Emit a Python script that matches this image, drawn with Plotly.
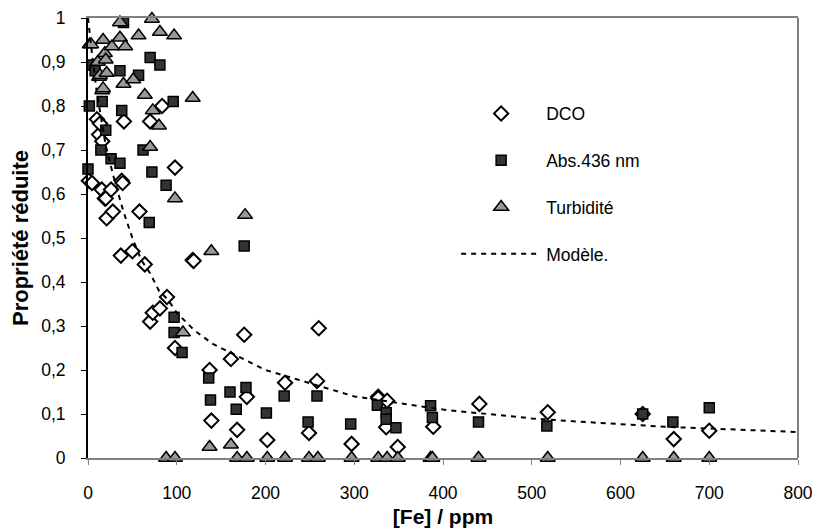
import plotly.graph_objects as go

# DCO (white diamonds)
dco_x = [1, 4.5, 10, 12.5, 13.5, 15.5, 16, 19, 20, 21, 26, 28, 37, 38, 39, 40.5, 50, 58, 64, 70, 70, 73, 81, 83.5, 89, 98, 98, 118, 119,
         137, 139, 161, 168, 176, 179, 202, 222, 249, 258, 260, 297, 327, 327, 336, 337, 349, 389, 441, 518, 625, 660, 700]
dco_y = [0.63, 0.625, 0.77, 0.735, 0.76, 0.61, 0.72, 0.59, 0.59, 0.545, 0.61, 0.56, 0.46, 0.63, 0.625, 0.765, 0.47, 0.56, 0.44, 0.31, 0.765, 0.33, 0.34, 0.80, 0.366, 0.25, 0.66, 0.45, 0.448,
         0.20, 0.085, 0.225, 0.064, 0.28, 0.139, 0.041, 0.171, 0.057, 0.175, 0.295, 0.032, 0.139, 0.136, 0.07, 0.13, 0.025, 0.071, 0.123, 0.104, 0.10, 0.043, 0.062]

# Abs. 436 nm (dark squares)
abs_x = [0, 1.5, 5, 8, 14.5, 16, 20, 26, 36, 36, 38, 40, 57, 62, 69, 70, 72, 81, 88, 96, 97, 97, 106,
         136, 138, 160, 167, 176, 178, 201, 221, 248, 258, 296, 326, 336, 336, 347, 386, 388, 440, 517, 625, 659, 700]
abs_y = [0.657, 0.80, 0.893, 0.88, 0.70, 0.81, 0.745, 0.68, 0.67, 0.88, 0.79, 0.99, 0.87, 0.70, 0.535, 0.91, 0.65, 0.893, 0.62, 0.81, 0.32, 0.285, 0.24,
         0.182, 0.132, 0.15, 0.111, 0.482, 0.16, 0.102, 0.141, 0.082, 0.141, 0.077, 0.12, 0.103, 0.088, 0.069, 0.119, 0.092, 0.082, 0.073, 0.10, 0.082, 0.114]

# Turbidité (grey triangles)
tur_x = [2, 3.5, 11, 12.5, 13.5, 16, 17, 17, 19, 20, 21, 27, 36, 36, 40, 42, 51, 57, 64, 70, 72, 73, 80, 81, 88, 97, 98, 98, 107, 118,
         137, 139, 161, 168, 177, 179, 202, 222, 249, 259, 297, 327, 337, 349, 386, 388, 440, 518, 625, 660, 700]
tur_y = [0.94, 0.94, 0.90, 0.866, 0.87, 0.835, 0.95, 0.84, 0.92, 0.905, 0.875, 0.935, 0.99, 0.955, 0.85, 0.935, 0.86, 0.96, 0.825, 0.707, 0.998, 0.79, 0.755, 0.968, 0.0, 0.96, 0.59, 0.0, 0.285, 0.818,
         0.025, 0.47, 0.03, 0.0, 0.552, 0.0, 0.0, 0.0, 0.0, 0.0, 0.0, 0.0, 0.0, 0.0, 0.0, 0.0, 0.0, 0.0, 0.0, 0.0, 0.0]

# Modèle (dotted curve)
mod_x = [0, 2, 5, 10, 15, 20, 30, 40, 50, 60, 70, 80, 90, 100, 120, 140, 160, 180, 200, 250, 300, 350, 400, 450, 500, 550, 600, 650, 700, 750, 800]
mod_y = [1.0, 0.96, 0.91, 0.83, 0.77, 0.71, 0.63, 0.56, 0.50, 0.45, 0.42, 0.38, 0.36, 0.33, 0.29, 0.26, 0.24, 0.22, 0.20, 0.17, 0.14, 0.125, 0.11, 0.10, 0.09, 0.083, 0.077, 0.071, 0.067, 0.063, 0.059]

x_ticks = [0, 100, 200, 300, 400, 500, 600, 700, 800]
y_ticks = [0, 0.1, 0.2, 0.3, 0.4, 0.5, 0.6, 0.7, 0.8, 0.9, 1]
y_tick_text = ["0", "0,1", "0,2", "0,3", "0,4", "0,5", "0,6", "0,7", "0,8", "0,9", "1"]

FONT = "Liberation Sans, Arial, sans-serif"

fig = go.Figure()
fig.add_trace(go.Scatter(x=dco_x, y=dco_y, mode="markers", name="DCO",
                         marker=dict(symbol="diamond", size=11, color="white",
                                     line=dict(color="black", width=2)),
                         legendgroup="a", cliponaxis=False))
fig.add_trace(go.Scatter(x=abs_x, y=abs_y, mode="markers", name="Abs.436 nm",
                         marker=dict(symbol="square", size=10, color="#333333",
                                     line=dict(color="black", width=1.5)),
                         legendgroup="b", cliponaxis=False))
fig.add_trace(go.Scatter(x=tur_x, y=tur_y, mode="markers", name="Turbidité",
                         marker=dict(symbol="triangle-up", size=13, color="#999999",
                                     line=dict(color="black", width=1.5)),
                         legendgroup="c", cliponaxis=False))
fig.add_trace(go.Scatter(x=mod_x, y=mod_y, mode="lines", name="Modèle.",
                         line=dict(color="black", width=2, dash="5px,5px"),
                         legendgroup="d"))

fig.update_layout(
    width=820, height=528,
    margin=dict(l=80, r=30, t=10, b=78, autoexpand=False),
    paper_bgcolor="white", plot_bgcolor="white",
    font=dict(family=FONT, size=17, color="black"),
    showlegend=True,
    legend=dict(x=0.5185, y=0.8235, xanchor="left", yanchor="top",
                bgcolor="rgba(0,0,0,0)", font=dict(size=17.5, family=FONT),
                tracegroupgap=21, itemwidth=80, traceorder="grouped"),
    xaxis=dict(range=[0, 800], tickvals=x_ticks, showgrid=False, zeroline=False,
               automargin=False,
               showline=True, linecolor="#808080", linewidth=2, mirror=True,
               ticks="outside", ticklen=5, tickcolor="#808080", ticklabelstandoff=13,
               tickfont=dict(size=17.5),
               title=dict(text="<b>[Fe] / ppm</b>", font=dict(size=21), standoff=7)),
    yaxis=dict(range=[0, 1], tickvals=y_ticks, ticktext=y_tick_text, showgrid=False, zeroline=False,
               automargin=False,
               showline=True, linecolor="black", linewidth=2,
               ticks="outside", ticklen=5, tickcolor="black", ticklabelstandoff=12,
               tickfont=dict(size=17.5),
               title=dict(text="<b>Propriété réduite</b>", font=dict(size=22), standoff=9)),
    shapes=[dict(type="line", xref="paper", yref="paper", x0=1, x1=1, y0=0, y1=1,
                 line=dict(color="#808080", width=2))],
)

fig.write_html("out.html")
